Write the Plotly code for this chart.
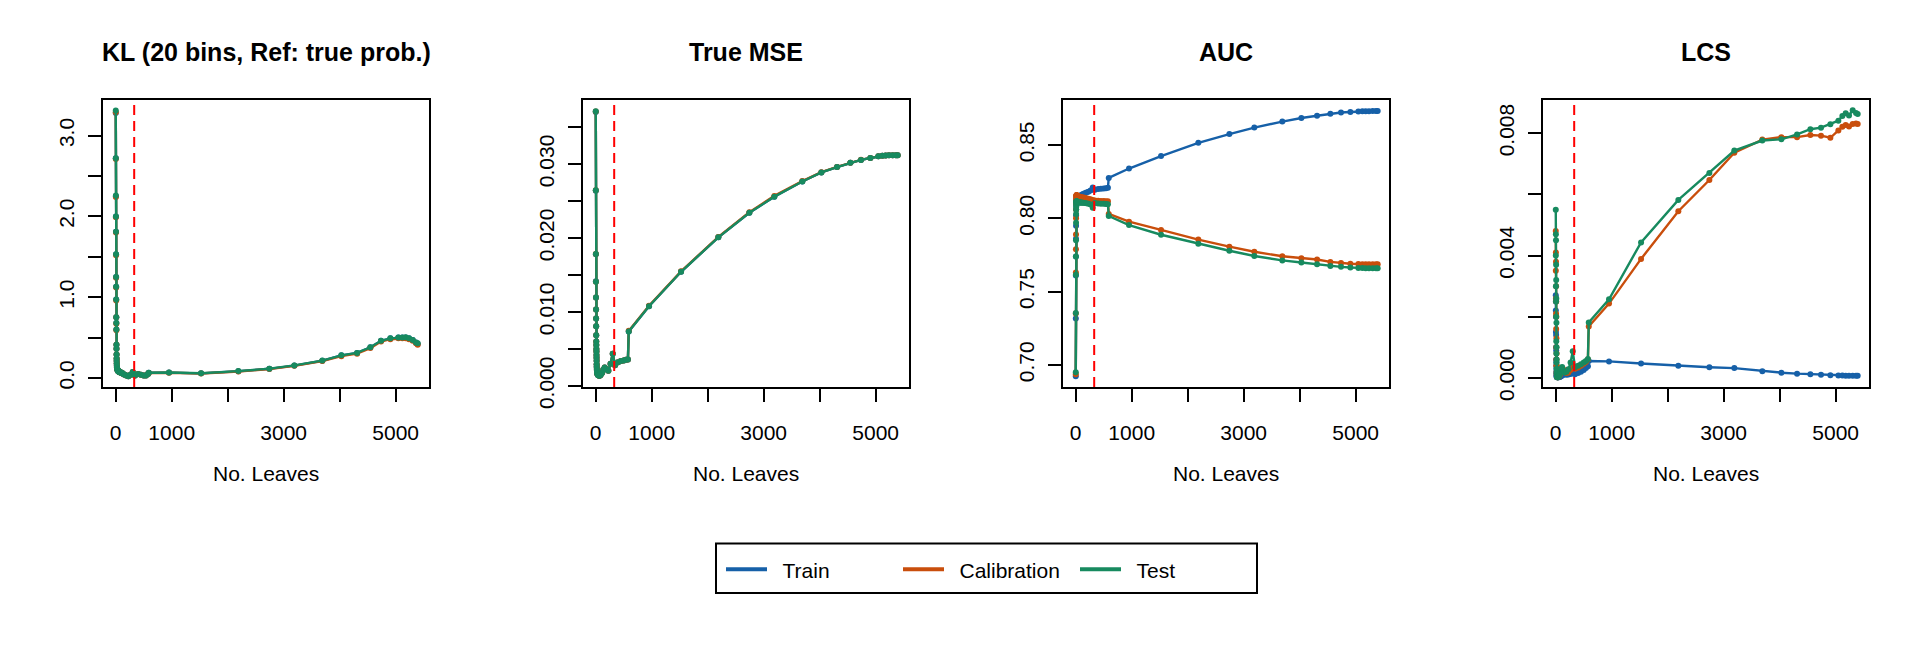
import plotly.graph_objects as go

# ---------------- data ----------------
leaves = [1, 2, 3, 4, 5, 6, 7, 8, 9, 10, 11, 12, 13, 14, 15, 16, 17, 18,
          20, 22, 24, 27, 30, 34, 38, 43, 48, 54, 60, 68, 77, 88, 100,
          115, 135, 160, 190, 226, 265, 304,
          345, 400, 450, 500, 540, 575, 590,
          952, 1524, 2190, 2744, 3190, 3690, 4030, 4310, 4548, 4738, 4905,
          5048, 5119, 5179, 5238, 5304, 5363, 5393]

kl_test = [3.31, 2.72, 2.26, 2.00, 1.81, 1.53, 1.25, 1.13, 0.97, 0.75, 0.68, 0.60, 0.41, 0.36, 0.29, 0.24, 0.21, 0.18,
           0.15, 0.13, 0.12, 0.11, 0.10, 0.10, 0.09, 0.09, 0.08, 0.08, 0.08, 0.07, 0.07, 0.07, 0.06,
           0.06, 0.05, 0.04, 0.03, 0.02, 0.04, 0.075,
           0.03, 0.05, 0.04, 0.03, 0.03, 0.05, 0.065,
           0.067, 0.058, 0.085, 0.115, 0.155, 0.215, 0.28, 0.31, 0.38, 0.46, 0.49,
           0.50, 0.50, 0.505, 0.49, 0.47, 0.44, 0.43]
kl_cal = [3.29, 2.71, 2.24, 1.99, 1.80, 1.52, 1.24, 1.12, 0.96, 0.75, 0.67, 0.59, 0.41, 0.36, 0.29, 0.24, 0.21, 0.18,
          0.15, 0.13, 0.12, 0.11, 0.10, 0.10, 0.09, 0.09, 0.08, 0.08, 0.08, 0.07, 0.07, 0.07, 0.06,
          0.06, 0.05, 0.04, 0.03, 0.02, 0.04, 0.072,
          0.03, 0.05, 0.04, 0.03, 0.03, 0.05, 0.062,
          0.064, 0.055, 0.080, 0.110, 0.150, 0.210, 0.27, 0.30, 0.37, 0.45, 0.48,
          0.49, 0.49, 0.49, 0.48, 0.46, 0.43, 0.41]
kl_train = [3.28, 2.72, 2.25, 2.00, 1.81, 1.53, 1.25, 1.13, 0.97, 0.75, 0.68, 0.60, 0.41, 0.36, 0.29, 0.24, 0.21, 0.18,
            0.15, 0.13, 0.12, 0.11, 0.10, 0.10, 0.09, 0.09, 0.08, 0.08, 0.08, 0.07, 0.07, 0.07, 0.06,
            0.06, 0.05, 0.04, 0.03, 0.02, 0.04, 0.074,
            0.03, 0.05, 0.04, 0.03, 0.03, 0.05, 0.064,
            0.066, 0.057, 0.083, 0.113, 0.153, 0.213, 0.28, 0.31, 0.38, 0.46, 0.49,
            0.50, 0.50, 0.50, 0.49, 0.47, 0.44, 0.42]

mse_test = [0.03715, 0.02647, 0.01783, 0.01409, 0.01195, 0.01033, 0.00912, 0.00807, 0.00684, 0.00600, 0.00554, 0.00500,
            0.00467, 0.00420, 0.00380, 0.00340, 0.00292, 0.00260,
            0.00230, 0.00205, 0.00190, 0.00175, 0.00165, 0.00158, 0.00152, 0.00148, 0.00145, 0.00142, 0.00140,
            0.00140, 0.00141, 0.00150, 0.00165,
            0.00180, 0.00220, 0.00249, 0.00225, 0.00205, 0.00300, 0.00436,
            0.00279, 0.00320, 0.00336, 0.00345, 0.00353, 0.00357, 0.00737,
            0.01077, 0.01544, 0.02010, 0.02342, 0.02560, 0.02765, 0.02887, 0.02960, 0.03018, 0.03057, 0.03083,
            0.03105, 0.03113, 0.03117, 0.03120, 0.03120, 0.03120, 0.03120]
mse_cal = [0.03712, 0.02645, 0.01785, 0.01410, 0.01196, 0.01033, 0.00912, 0.00808, 0.00685, 0.00600, 0.00554, 0.00500,
           0.00467, 0.00420, 0.00380, 0.00340, 0.00292, 0.00260,
           0.00230, 0.00205, 0.00190, 0.00175, 0.00165, 0.00158, 0.00152, 0.00148, 0.00145, 0.00142, 0.00140,
           0.00140, 0.00141, 0.00150, 0.00165,
           0.00180, 0.00220, 0.00249, 0.00225, 0.00205, 0.00300, 0.00436,
           0.00279, 0.00320, 0.00336, 0.00345, 0.00353, 0.00357, 0.00745,
           0.01085, 0.01550, 0.02015, 0.02350, 0.02570, 0.02770, 0.02890, 0.02962, 0.03020, 0.03058, 0.03084,
           0.03106, 0.03114, 0.03118, 0.03121, 0.03121, 0.03121, 0.03121]
mse_train = [0.03705, 0.02640, 0.01780, 0.01415, 0.01195, 0.01033, 0.00912, 0.00807, 0.00684, 0.00600, 0.00554, 0.00500,
             0.00467, 0.00420, 0.00380, 0.00340, 0.00292, 0.00260,
             0.00230, 0.00205, 0.00190, 0.00175, 0.00165, 0.00158, 0.00152, 0.00148, 0.00145, 0.00142, 0.00140,
             0.00140, 0.00141, 0.00150, 0.00165,
             0.00180, 0.00220, 0.00249, 0.00225, 0.00205, 0.00300, 0.00436,
             0.00279, 0.00320, 0.00336, 0.00345, 0.00353, 0.00357, 0.00737,
             0.01077, 0.01544, 0.02010, 0.02342, 0.02560, 0.02765, 0.02887, 0.02960, 0.03018, 0.03057, 0.03083,
             0.03105, 0.03113, 0.03117, 0.03120, 0.03120, 0.03120, 0.03120]

auc_train = [0.6923, 0.7317, 0.7610, 0.7740, 0.7860, 0.7950, 0.8020, 0.8060, 0.8085, 0.8100, 0.8110, 0.8115, 0.8120,
             0.8125, 0.8130, 0.8132, 0.8135, 0.8138,
             0.8140, 0.8142, 0.8144, 0.8145, 0.8146, 0.8147, 0.8148, 0.8149, 0.8150, 0.8151, 0.8152, 0.8153,
             0.8154, 0.8156, 0.8158,
             0.8162, 0.8166, 0.8172, 0.8176, 0.8182, 0.8190, 0.8210,
             0.8195, 0.8200, 0.8202, 0.8204, 0.8206, 0.8208, 0.8276,
             0.8340, 0.8425, 0.8515, 0.8575, 0.8619, 0.8660, 0.8685, 0.8700, 0.8713, 0.8722, 0.8726,
             0.8729, 0.8730, 0.8731, 0.8731, 0.8732, 0.8732, 0.8732]
auc_cal = [0.6936, 0.7350, 0.7630, 0.7790, 0.7890, 0.8000, 0.8060, 0.8100, 0.8120, 0.8135, 0.8145, 0.8150, 0.8155,
           0.8157, 0.8158, 0.8158, 0.8157, 0.8156,
           0.8155, 0.8155, 0.8154, 0.8154, 0.8153, 0.8152, 0.8151, 0.8150, 0.8150, 0.8149, 0.8148, 0.8147,
           0.8146, 0.8145, 0.8144,
           0.8143, 0.8142, 0.8140, 0.8137, 0.8133, 0.8130, 0.8126,
           0.8122, 0.8120, 0.8119, 0.8118, 0.8117, 0.8116, 0.8030,
           0.7977, 0.7921, 0.7855, 0.7807, 0.7772, 0.7741, 0.7728, 0.7719, 0.7703, 0.7695, 0.7690,
           0.7688, 0.7687, 0.7686, 0.7686, 0.7686, 0.7686, 0.7686]
auc_test = [0.6950, 0.7355, 0.7615, 0.7740, 0.7850, 0.7970, 0.8030, 0.8060, 0.8080, 0.8095, 0.8105, 0.8110, 0.8113,
            0.8115, 0.8116, 0.8116, 0.8115, 0.8115,
            0.8114, 0.8114, 0.8113, 0.8113, 0.8112, 0.8112, 0.8111, 0.8111, 0.8110, 0.8110, 0.8110, 0.8109,
            0.8109, 0.8108, 0.8108,
            0.8107, 0.8106, 0.8105, 0.8103, 0.8100, 0.8095, 0.8072,
            0.8105, 0.8102, 0.8100, 0.8099, 0.8098, 0.8097, 0.8016,
            0.7954, 0.7888, 0.7827, 0.7779, 0.7743, 0.7713, 0.7699, 0.7686, 0.7675, 0.7669, 0.7665,
            0.7662, 0.7661, 0.7660, 0.7660, 0.7660, 0.7660, 0.7660]

lcs_train = [0.00270, 0.00220, 0.00250, 0.00150, 0.00200, 0.00100, 0.00140, 0.00060, 0.00090, 0.00040, 0.00050, 0.00020,
             0.00030, 0.00010, 0.00015, 0.00005, 0.00008, 0.00003,
             0.00004, 0.00003, 0.00003, 0.00002, 0.00003, 0.00002, 0.00002, 0.00003, 0.00002, 0.00002, 0.00003,
             0.00003, 0.00004, 0.00005, 0.00006,
             0.00008, 0.00010, 0.00012, 0.00010, 0.00011, 0.00013, 0.00015,
             0.00012, 0.00016, 0.00020, 0.00026, 0.00032, 0.00038, 0.00055,
             0.00054, 0.00047, 0.00040, 0.00035, 0.00032, 0.00022, 0.00017, 0.00014, 0.00012, 0.00010, 0.00009,
             0.00008, 0.00008, 0.00007, 0.00007, 0.00007, 0.00007, 0.00007]
lcs_cal = [0.00480, 0.00350, 0.00410, 0.00260, 0.00380, 0.00210, 0.00300, 0.00160, 0.00250, 0.00100, 0.00200, 0.00060,
           0.00130, 0.00040, 0.00080, 0.00020, 0.00040, 0.00010,
           0.00015, 0.00006, 0.00004, 0.00003, 0.00002, 0.00003, 0.00002, 0.00003, 0.00004, 0.00005, 0.00006,
           0.00008, 0.00012, 0.00018, 0.00024,
           0.00030, 0.00028, 0.00022, 0.00016, 0.00018, 0.00026, 0.00040,
           0.00030, 0.00034, 0.00040, 0.00046, 0.00052, 0.00060, 0.00168,
           0.00243, 0.00389, 0.00545, 0.00647, 0.00736, 0.00779, 0.00787, 0.00787, 0.00794, 0.00792, 0.00785,
           0.00809, 0.00821, 0.00827, 0.00822, 0.00830, 0.00832, 0.00830]
lcs_test = [0.00550, 0.00400, 0.00470, 0.00300, 0.00450, 0.00250, 0.00370, 0.00200, 0.00320, 0.00120, 0.00260, 0.00080,
            0.00180, 0.00050, 0.00100, 0.00030, 0.00060, 0.00015,
            0.00020, 0.00008, 0.00005, 0.00003, 0.00002, 0.00002, 0.00003, 0.00004, 0.00005, 0.00006, 0.00008,
            0.00010, 0.00015, 0.00022, 0.00030,
            0.00036, 0.00024, 0.00018, 0.00020, 0.00028, 0.00050, 0.00087,
            0.00035, 0.00040, 0.00045, 0.00050, 0.00055, 0.00062, 0.00181,
            0.00257, 0.00443, 0.00582, 0.00670, 0.00743, 0.00776, 0.00780, 0.00796, 0.00813, 0.00818, 0.00829,
            0.00841, 0.00856, 0.00865, 0.00858, 0.00875, 0.00866, 0.00863]

series_names = ["Train", "Calibration", "Test"]
series_colors = ["#1660A8", "#C94E0C", "#178A5F"]
panel_titles = ["KL (20 bins, Ref: true prob.)", "True MSE", "AUC", "LCS"]
panel_data = [
    [kl_train, kl_cal, kl_test],
    [mse_train, mse_cal, mse_test],
    [auc_train, auc_cal, auc_test],
    [lcs_train, lcs_cal, lcs_test],
]
selected_leaves = 330

x_tickvals = [0, 1000, 2000, 3000, 4000, 5000]
x_ticktext = ["0", "1000", "", "3000", "", "5000"]
y_tickvals = [
    [0.0, 0.5, 1.0, 1.5, 2.0, 2.5, 3.0],
    [0.0, 0.005, 0.010, 0.015, 0.020, 0.025, 0.030, 0.035],
    [0.70, 0.75, 0.80, 0.85],
    [0.000, 0.002, 0.004, 0.006, 0.008],
]
y_ticktext = [
    ["0.0", "", "1.0", "", "2.0", "", "3.0"],
    ["0.000", "", "0.010", "", "0.020", "", "0.030", ""],
    ["0.70", "0.75", "0.80", "0.85"],
    ["0.000", "", "0.004", "", "0.008"],
]
y_ranges = [[-0.111, 3.446], [-0.00013, 0.03872], [0.685, 0.881], [-0.000294, 0.009097]]
x_range = [-227, 5595]

# ---------------- layout geometry ----------------
W, H = 1920, 672
panel_w = 480
box_l, box_r = 103, 429
box_t, box_b = 103, 400
leg_l, leg_r, leg_t, leg_b = 716, 1257, 562, 613
FONT = "Liberation Sans, Arial, sans-serif"
FS = 21

fig = go.Figure()
layout = dict(
    width=W, height=H,
    margin=dict(l=0, r=0, t=0, b=0),
    paper_bgcolor="white", plot_bgcolor="white",
    font=dict(family=FONT, size=FS, color="black"),
    showlegend=True,
    annotations=[],
    shapes=[],
)

for p in range(4):
    ax = "" if p == 0 else str(p + 1)
    xa = "x" + ax
    ya = "y" + ax
    x0 = (p * panel_w + box_l) / W
    x1 = (p * panel_w + box_r) / W
    layout["xaxis" + ax] = dict(
        domain=[x0, x1], range=x_range, anchor=ya,
        showgrid=False, zeroline=False,
        showline=True, mirror=True, linecolor="black", linewidth=2,
        ticks="outside", ticklen=13, tickwidth=2, tickcolor="black",
        tickvals=x_tickvals, ticktext=x_ticktext,
        tickfont=dict(size=FS, family=FONT, color="black"),
        ticklabelstandoff=13,
    )
    layout["yaxis" + ax] = dict(
        domain=[1 - box_b / H, 1 - box_t / H], range=y_ranges[p], anchor=xa,
        showgrid=False, zeroline=False,
        showline=True, mirror=True, linecolor="black", linewidth=2,
        ticks="outside", ticklen=13, tickwidth=2, tickcolor="black",
        tickvals=y_tickvals[p], ticktext=y_ticktext[p], tickangle=-90,
        tickfont=dict(size=FS, family=FONT, color="black"),
        ticklabelstandoff=6,
    )
    for s in range(3):
        fig.add_trace(go.Scatter(
            x=leaves, y=panel_data[p][s], mode="lines+markers",
            line=dict(color=series_colors[s], width=2.4),
            marker=dict(color=series_colors[s], size=6),
            xaxis=xa, yaxis=ya, showlegend=False, name=series_names[s],
        ))
    # selected model marker line
    layout["shapes"].append(dict(
        type="line", xref=xa, yref=ya + " domain",
        x0=selected_leaves, x1=selected_leaves, y0=0, y1=1,
        line=dict(color="#FF0000", width=2, dash="10px,6px"),
    ))
    cx = (p * panel_w + (box_l + box_r) / 2) / W
    layout["annotations"].append(dict(
        text="<b>" + panel_titles[p] + "</b>", xref="paper", yref="paper",
        x=cx, y=1 - 54 / H, xanchor="center", yanchor="middle", showarrow=False,
        font=dict(size=25, family=FONT, color="black"),
    ))
    layout["annotations"].append(dict(
        text="No. Leaves", xref="paper", yref="paper",
        x=cx, y=1 - 490 / H, xanchor="center", yanchor="middle", showarrow=False,
        font=dict(size=FS, family=FONT, color="black"),
    ))

# legend frame
layout["shapes"].append(dict(
    type="rect", xref="paper", yref="paper", layer="below",
    x0=leg_l / W, x1=leg_r / W, y0=1 - leg_b / H, y1=1 - leg_t / H,
    line=dict(color="black", width=2), fillcolor="rgba(0,0,0,0)",
))

# legend-only traces
for s in range(3):
    fig.add_trace(go.Scatter(
        x=[None], y=[None], mode="lines", name="\u2002" + series_names[s],
        line=dict(color=series_colors[s], width=4), showlegend=True,
    ))

layout["legend"] = dict(
    orientation="h", x=(leg_l + 5) / W, y=1 - 589 / H, xanchor="left", yanchor="middle",
    borderwidth=0, bgcolor="rgba(0,0,0,0)",
    font=dict(size=FS, family=FONT, color="black"),
    itemwidth=41,
    entrywidth=121, entrywidthmode="pixels",
)

fig.update_layout(**layout)
fig.write_html(
    "out.html",
    config={"displayModeBar": False},
    post_script="document.body.style.margin='0';document.body.style.overflow='hidden';",
)
